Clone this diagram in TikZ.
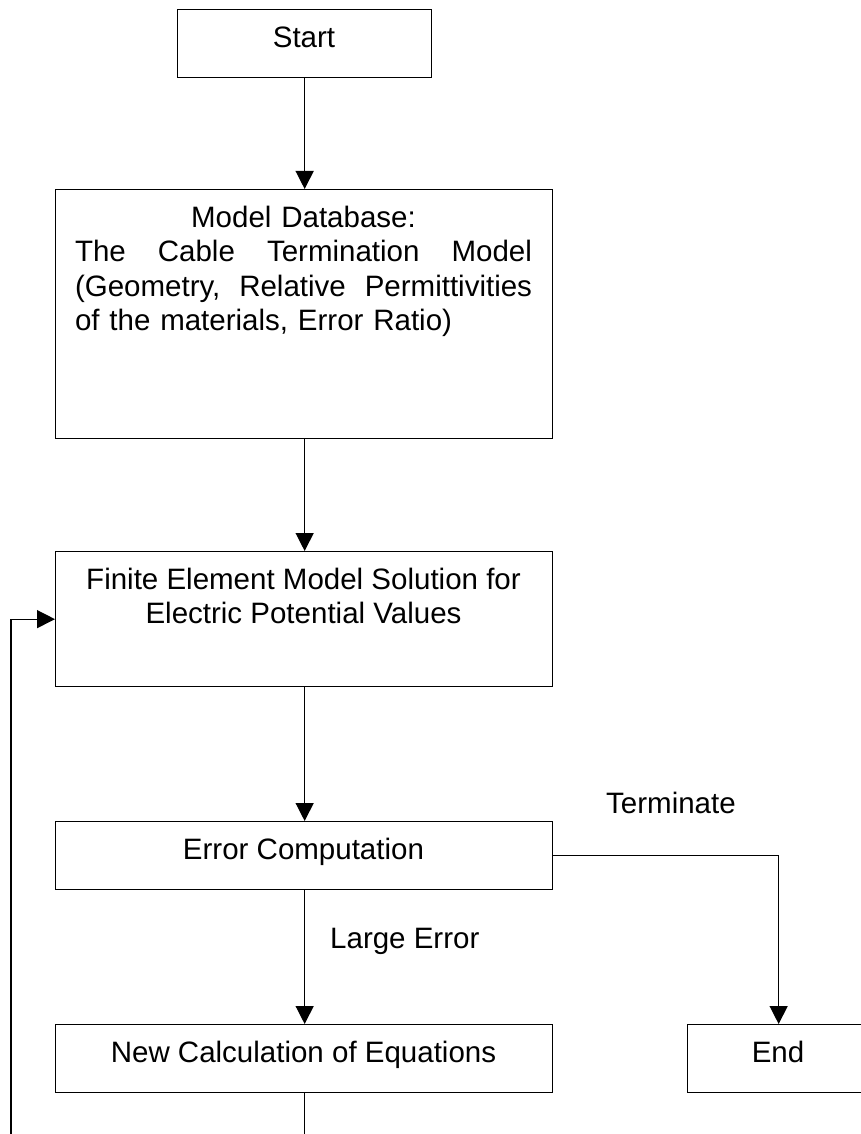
\documentclass[tikz,border=0pt]{standalone}
\usepackage{fontspec}
\setmainfont{Liberation Sans}
\usetikzlibrary{arrows.meta,calc}
\begin{document}
\begin{tikzpicture}[x=1pt,y=-1pt,
  box/.style={draw, line width=1.3pt, inner sep=0pt, anchor=north west},
  txt/.style={font=\fontsize{29.5pt}{34.5pt}\selectfont, inner sep=0pt, anchor=north},
  lbl/.style={font=\fontsize{29.5pt}{34.5pt}\selectfont, inner sep=0pt, anchor=base west},
  conn/.style={line width=1.3pt},
  arr/.style={conn, -{Triangle[length=18pt,width=18pt]}}]
\path[use as bounding box] (0,0) rectangle (861,1134);
\clip (0,0) rectangle (861,1134);

% boxes
\node[box, minimum width=254pt, minimum height=68pt] (start) at (177,9) {};
\node[txt] (startT) at (304,22) {\rule{0pt}{25pt}Start};

\node[box, minimum width=497pt, minimum height=249pt] (model) at (55,189) {};
\node[txt, text width=457pt, align=left] (modelT) at (303.5,202) {%
\rule{0pt}{25pt}\makebox[457pt][c]{Model Database:}\\
\makebox[457pt][s]{The\hfill Cable\hfill Termination\hfill Model}\\
\makebox[457pt][s]{(Geometry,\hfill Relative\hfill Permittivities}\\
of the materials, Error Ratio)};

\node[box, minimum width=497pt, minimum height=135pt] (fem) at (55,551) {};
\node[txt, align=center] (femT) at (303.5,564) {\rule{0pt}{25pt}Finite Element Model Solution for\\Electric Potential Values};

\node[box, minimum width=497pt, minimum height=68pt] (err) at (55,821) {};
\node[txt] (errT) at (303.5,834) {\rule{0pt}{25pt}Error Computation};

\node[box, minimum width=497pt, minimum height=68pt] (calc) at (55,1024) {};
\node[txt] (calcT) at (303.5,1037) {\rule{0pt}{25pt}New Calculation of Equations};

\node[box, minimum width=182pt, minimum height=68pt] (endb) at (687,1024) {};
\node[txt] (endT) at (778,1037) {\rule{0pt}{25pt}End};

% labels
\node[lbl] (term) at (606,813) {Terminate};
\node[lbl] (large) at (330,948) {Large Error};

% connectors
\draw[arr] (start.south) -- (start.south |- model.north);
\draw[arr] (start.south |- model.south) -- (start.south |- fem.north);
\draw[arr] (start.south |- fem.south) -- (start.south |- err.north);
\draw[arr] (start.south |- err.south) -- (start.south |- calc.north);
\draw[arr] (err.east) -| (endb.north);
\coordinate (lb) at (11,1160);
\draw[arr] (start.south |- calc.south) -- (start.south |- lb) -- (lb) |- (fem.west);
\end{tikzpicture}
\end{document}
